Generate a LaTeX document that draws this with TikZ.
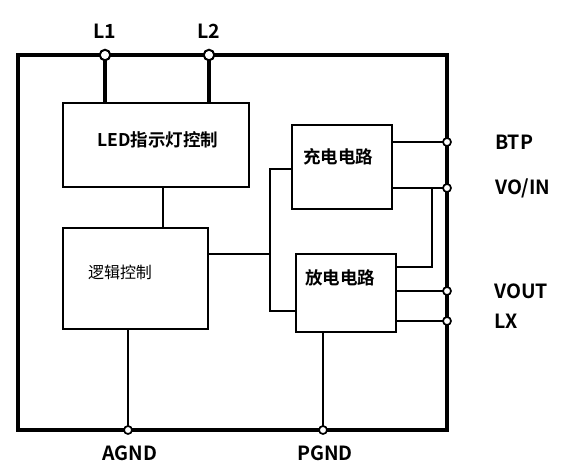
\documentclass[tikz,border=0pt]{standalone}
\usepackage{fontspec}
\setmainfont{Noto Sans CJK SC}[BoldFont={* Bold}]
\usepackage{tikz}
\usetikzlibrary{shapes}

\begin{document}
\begin{tikzpicture}[x=1pt, y=-1pt,
    box/.style={draw, line width=1.8pt, inner sep=0pt},
    wire/.style={line width=1.8pt},
    thickwire/.style={line width=3.6pt},
    bigpin/.style={circle, draw, line width=2pt, fill=white, inner sep=0pt, minimum size=10.5pt},
    pin/.style={circle, draw, line width=1.7pt, fill=white, inner sep=0pt, minimum size=8pt},
    lbl/.style={font=\fontsize{19.5}{21}\selectfont\bfseries, inner sep=0pt},
    txt/.style={font=\fontsize{17.5}{19}\selectfont\bfseries, inner sep=0pt}]
  \useasboundingbox (0,0) rectangle (563,471);

  % chip outline
  \draw[thickwire] (18,55) rectangle (447,430);

  % blocks
  \node[box, minimum width=186pt, minimum height=84pt] (led) at (156,145) {};
  \node[box, minimum width=145pt, minimum height=101pt] (logic) at (135.5,278.5) {};
  \node[box, minimum width=100pt, minimum height=84pt] (chg) at (342,167) {};
  \node[box, minimum width=100pt, minimum height=78pt] (dis) at (346,293) {};

  \node[txt] (ledtxt) at (158,140) {LED指示灯控制};
  \node[txt, font=\fontsize{16}{18}\selectfont] (logictxt) at (120,272) {逻辑控制};
  \node[txt] (chgtxt) at (338,157) {充电电路};
  \node[txt] (distxt) at (340,278) {放电电路};

  % pins
  \coordinate (l1) at (105,55);
  \coordinate (l2) at (209,55);
  \coordinate (btp) at (447,142);
  \coordinate (voin) at (447,188);
  \coordinate (vout) at (447,291);
  \coordinate (lx) at (447,321);
  \coordinate (agnd) at (128,430);
  \coordinate (pgnd) at (323,430);

  % junctions
  \coordinate (jl) at (270,254);
  \coordinate (jt) at (270,169);
  \coordinate (jb) at (270,311);
  \coordinate (jv) at (432,188);
  \coordinate (jd) at (432,267);

  % connections
  \draw[thickwire] (l1) -- (l1 |- led.north);
  \draw[thickwire] (l2) -- (l2 |- led.north);
  \draw[wire] ([xshift=7pt]led.south) -- ([xshift=7pt]led.south |- logic.north);
  \draw[wire] (jl -| logic.east) -- (jl);
  \draw[wire] (chg.west |- jt) -- (jt) -- (jb) -- (jb -| dis.west);
  \draw[wire] (btp -| chg.east) -- (btp);
  \draw[wire] (voin -| chg.east) -- (voin);
  \draw[wire] (jv) -- (jd) -- (jd -| dis.east);
  \draw[wire] (vout -| dis.east) -- (vout);
  \draw[wire] (lx -| dis.east) -- (lx);
  \draw[wire] (agnd |- logic.south) -- (agnd);
  \draw[wire] (pgnd |- dis.south) -- (pgnd);

  \node[bigpin] (l1pin) at (l1) {};
  \node[bigpin] (l2pin) at (l2) {};
  \foreach \p in {btp,voin,vout,lx,agnd,pgnd}
    \node[pin] (\p pin) at (\p) {};

  % pin names
  \node[lbl] (l1t) at (105,31) {L1};
  \node[lbl] (l2t) at (209,31) {L2};
  \node[lbl, anchor=west] (btpt) at (495,142) {BTP};
  \node[lbl, anchor=west] (voint) at (495,188) {VO/IN};
  \node[lbl, anchor=west] (voutt) at (494,291) {VOUT};
  \node[lbl, anchor=west] (lxt) at (494,321) {LX};
  \node[lbl] (agndt) at (130,453) {AGND};
  \node[lbl] (pgndt) at (325,453) {PGND};
\end{tikzpicture}
\end{document}
